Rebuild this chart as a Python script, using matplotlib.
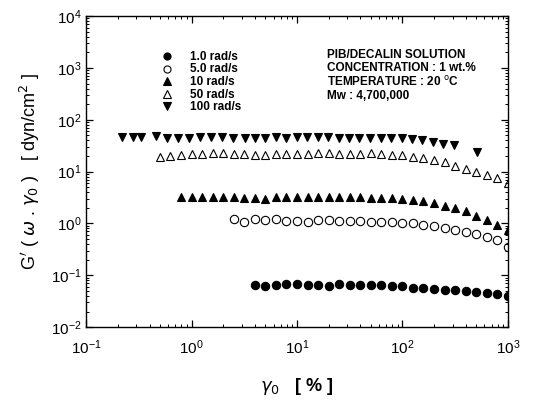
import matplotlib
matplotlib.use("Agg")
import matplotlib.pyplot as plt
from matplotlib.ticker import LogLocator, NullFormatter

plt.rcParams["font.family"] = ["Liberation Sans", "DejaVu Sans"]

# strain amplitude grid (%) shared by most sweeps
GAMMA = [0.50, 0.63, 0.79, 1.0, 1.26, 1.58, 2.0, 2.51, 3.16, 3.98,
         5.01, 6.31, 7.94, 10.0, 12.6, 15.8, 20.0, 25.1, 31.6, 39.8,
         50.1, 63.1, 79.4, 100, 126, 158, 200, 251, 316, 398,
         501, 631, 794, 1000]

G_1 = [0.064, 0.062, 0.064, 0.067, 0.068, 0.066, 0.065, 0.063, 0.067, 0.066,
       0.065, 0.064, 0.064, 0.063, 0.061, 0.057, 0.057, 0.055, 0.052, 0.052,
       0.050, 0.047, 0.045, 0.043, 0.039]
G_5 = [1.22, 1.05, 1.20, 1.15, 1.20, 1.12, 1.10, 1.08, 1.18, 1.15,
       1.12, 1.10, 1.10, 1.08, 1.08, 1.05, 1.02, 1.00, 0.95, 0.88,
       0.82, 0.75, 0.68, 0.62, 0.55, 0.47, 0.35]
G_10 = [3.2, 3.2, 3.2, 3.2, 3.2, 3.2, 3.15, 3.15, 2.95, 3.3,
        3.2, 3.2, 3.2, 3.2, 3.2, 3.25, 3.2, 3.2, 3.15, 3.1,
        3.05, 3.0, 2.85, 2.7, 2.45, 2.2, 1.95, 1.7, 1.4, 1.17,
        0.95, 0.75]
G_50 = [19, 20, 21, 21.5, 22, 23, 22.5, 22, 21.5, 21,
        21, 22, 22, 22, 21.5, 22.5, 22.5, 22, 22, 22,
        22.5, 21.5, 21, 20.5, 19.5, 18.5, 17, 15, 13, 11.2,
        10, 8.7, 7.4, 5.9]

GAMMA_100 = [0.22, 0.28, 0.33, 0.46, 0.58, 0.74, 0.94, 1.2, 1.52, 1.96,
             2.48, 3.2, 3.97, 5.0, 6.3, 7.9, 10.1, 12.4, 15.8, 19.6,
             25, 31, 39, 49, 62, 78, 99, 123, 155, 195,
             245, 310, 510]
G_100 = [46, 47, 47, 48, 45, 45, 45, 46, 47, 46,
         45, 45, 45, 45, 46, 45, 46, 46, 46, 46,
         45, 45, 45, 45, 44, 44, 44, 43, 40, 37,
         34, 32, 23.5]

SERIES = [
    ("1.0 rad/s", GAMMA[9:], G_1, "o", "k"),
    ("5.0 rad/s", GAMMA[7:], G_5, "o", "none"),
    ("10 rad/s", GAMMA[2:], G_10, "^", "k"),
    ("50 rad/s", GAMMA, G_50, "^", "none"),
    ("100 rad/s", GAMMA_100, G_100, "v", "k"),
]

fig = plt.figure(figsize=(5.42, 4.12), dpi=100)
ax = fig.add_axes([0.159, 0.206, 0.778, 0.755])

for label, x, y, m, fc in SERIES:
    ax.plot(x, y, linestyle="none", marker=m, markersize=6,
            markerfacecolor=fc, markeredgecolor="k", markeredgewidth=0.8,
            label=label)

ax.set_xscale("log")
ax.set_yscale("log")
ax.set_xlim(0.1, 1000)
ax.set_ylim(0.01, 10000)

ax.xaxis.set_major_locator(LogLocator(base=10, numticks=10))
ax.yaxis.set_major_locator(LogLocator(base=10, numticks=10))
for axis in (ax.xaxis, ax.yaxis):
    axis.set_minor_locator(LogLocator(base=10, subs=range(2, 10), numticks=20))
    axis.set_minor_formatter(NullFormatter())
ax.tick_params(which="both", direction="in", top=True, right=True,
               labelsize=11)
ax.tick_params(which="major", length=5, width=0.9)
ax.tick_params(which="minor", length=2.5, width=0.7)
ax.tick_params(axis="x", pad=8)
for s in ax.spines.values():
    s.set_linewidth(1.0)

ax.set_xlabel(r"$\gamma_0$   [ % ]", fontsize=13, fontweight="bold", labelpad=14)
ax.set_ylabel(r"G$'$ ( $\omega$ . $\gamma_0$ )   [ dyn/cm$^2$ ]",
              fontsize=13, labelpad=6)

ax.legend(loc="upper left", bbox_to_anchor=(0.16, 0.915), frameon=False,
          handletextpad=1.5, labelspacing=0.05, handlelength=0.9,
          handleheight=0.5, markerscale=0.85, borderpad=0.2,
          prop={"weight": "bold", "size": 8.5})

info = ("PIB/DECALIN SOLUTION\nCONCENTRATION : 1 wt.%\n"
        "TEMPERATURE : 20 $^{\\mathrm{o}}$C\nMw : 4,700,000")
ax.text(0.57, 0.893, info, transform=ax.transAxes, fontsize=8.5,
        fontweight="bold", va="top", ha="left", linespacing=1.1)

fig.savefig("out.png", dpi=100)
